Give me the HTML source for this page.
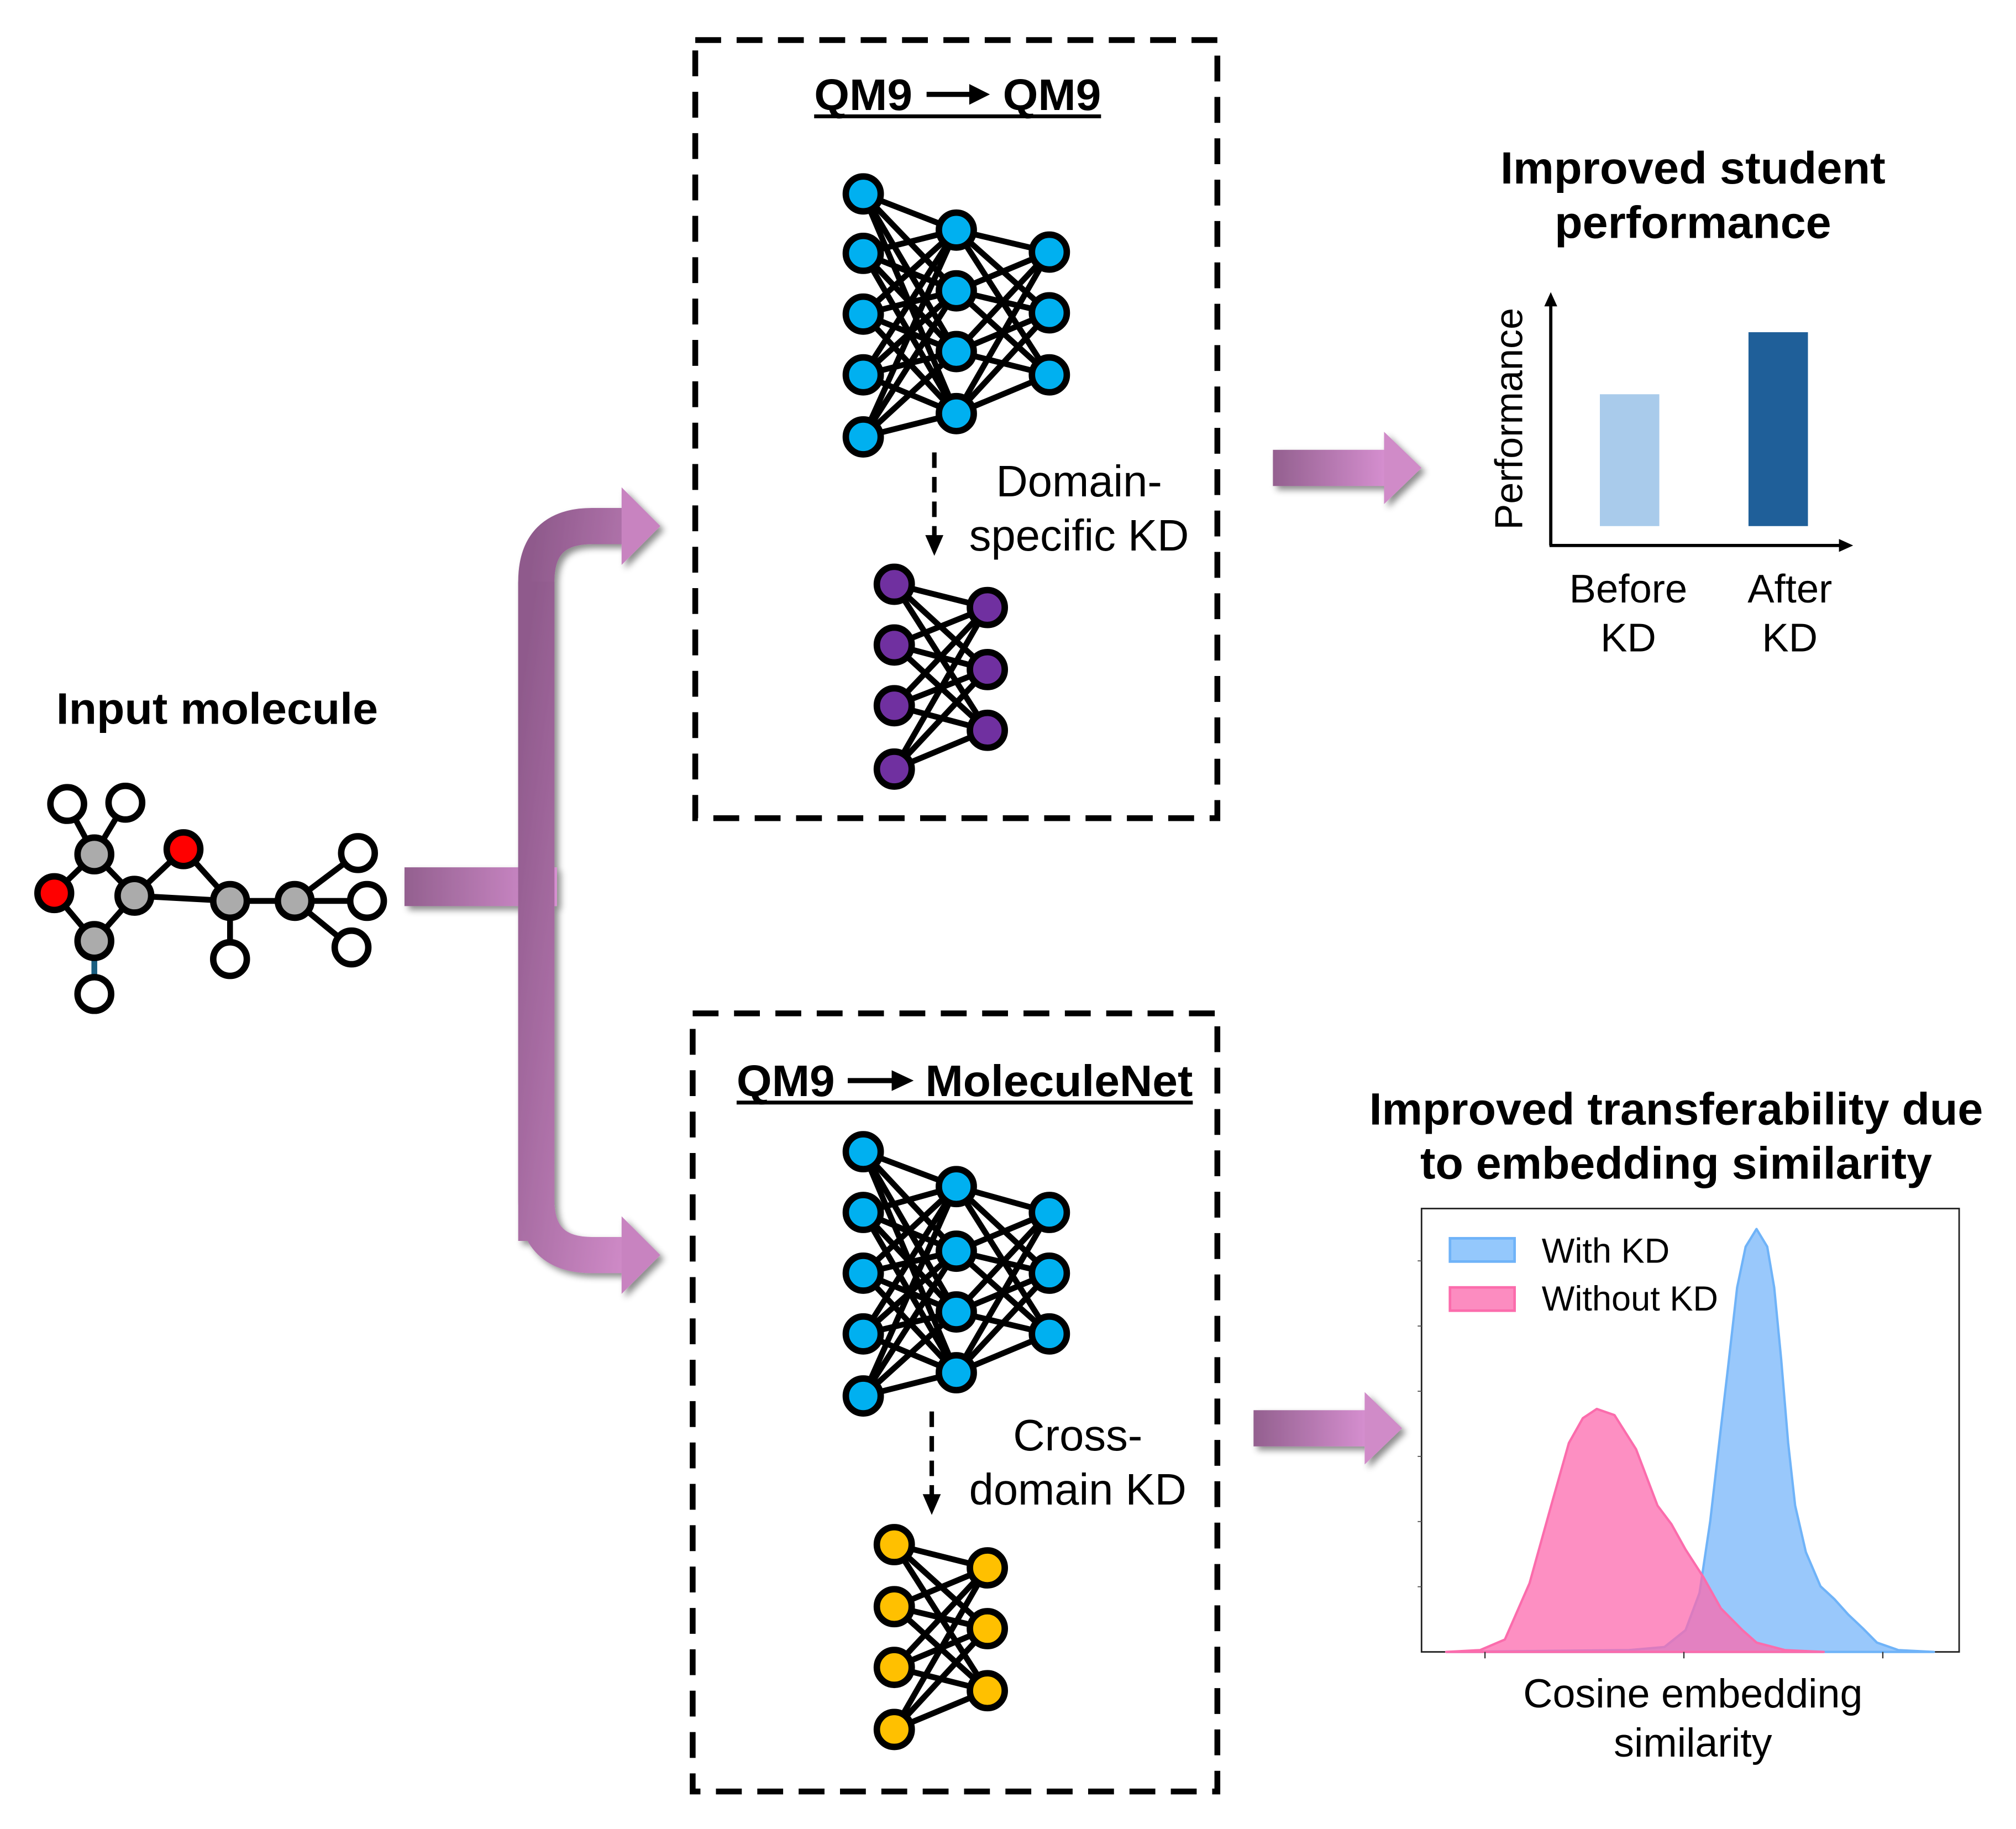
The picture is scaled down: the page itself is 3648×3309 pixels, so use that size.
<!DOCTYPE html>
<html><head><meta charset="utf-8">
<style>
html,body{margin:0;padding:0;background:#fff;}
svg{display:block;}
text{font-family:"Liberation Sans",Arial,sans-serif;fill:#000;}
</style></head>
<body>
<svg id="root" width="3648" height="3309" viewBox="0 0 1560 1415" xmlns="http://www.w3.org/2000/svg">
<defs>
<linearGradient id="pg" x1="0" y1="0" x2="1" y2="1">
<stop offset="0" stop-color="#8f5a8c"/><stop offset="1" stop-color="#d08bc8"/></linearGradient>
<linearGradient id="pgh" x1="0" y1="0" x2="1" y2="0">
<stop offset="0" stop-color="#93608f"/><stop offset="1" stop-color="#d68fd0"/></linearGradient>
<filter id="sh" x="-20%" y="-20%" width="150%" height="150%"><feDropShadow dx="3" dy="3" stdDeviation="2.5" flood-color="#000" flood-opacity="0.45"/></filter>
</defs>

<!-- Input molecule -->
<text x="168" y="560" font-size="34" font-weight="bold" text-anchor="middle" textLength="249" lengthAdjust="spacingAndGlyphs">Input molecule</text>
<g id="mol"></g>

<!-- Bracket arrows -->
<g filter="url(#sh)">
<rect x="313" y="671" width="118" height="30" fill="url(#pgh)"/>
<path d="M415,960 L415,450 Q415,407 458,407 L486,407" fill="none" stroke="url(#pg)" stroke-width="28"/>
<polygon points="481,377 511,407 481,437" fill="#c883c0"/>
<path d="M415,450 L415,928 Q415,971 458,971 L486,971" fill="none" stroke="url(#pg)" stroke-width="28"/>
<polygon points="481,941 511,971 481,1001" fill="#c883c0"/>
</g>

<!-- Dashed boxes -->
<rect x="538" y="31" width="404" height="602" fill="none" stroke="#000" stroke-width="4.5" stroke-dasharray="20 12"/>
<rect x="536" y="784" width="406" height="602" fill="none" stroke="#000" stroke-width="4.5" stroke-dasharray="20 12"/>

<g>
<text x="630" y="85" font-size="34" font-weight="bold" textLength="76" lengthAdjust="spacingAndGlyphs">QM9</text>
<line x1="717" y1="73" x2="752" y2="73" stroke="#000" stroke-width="4"/>
<polygon points="750,65 766,73 750,81" fill="#000"/>
<text x="776" y="85" font-size="34" font-weight="bold" textLength="76" lengthAdjust="spacingAndGlyphs">QM9</text>
<line x1="630" y1="90" x2="852" y2="90" stroke="#000" stroke-width="3"/>
</g>
<g>
<text x="570" y="848" font-size="34" font-weight="bold" textLength="76" lengthAdjust="spacingAndGlyphs">QM9</text>
<line x1="656" y1="836" x2="692" y2="836" stroke="#000" stroke-width="4"/>
<polygon points="690,828 707,836 690,844" fill="#000"/>
<text x="716" y="848" font-size="34" font-weight="bold" textLength="207" lengthAdjust="spacingAndGlyphs">MoleculeNet</text>
<line x1="570" y1="853" x2="923" y2="853" stroke="#000" stroke-width="3"/>
</g>

<g id="nets"></g>

<g>
<line x1="723" y1="350" x2="723" y2="415" stroke="#000" stroke-width="3.5" stroke-dasharray="12 7"/>
<polygon points="716,414 730,414 723,430" fill="#000"/>
</g>
<g>
<line x1="721" y1="1092" x2="721" y2="1157" stroke="#000" stroke-width="3.5" stroke-dasharray="12 7"/>
<polygon points="714,1156 728,1156 721,1172" fill="#000"/>
</g>
<text font-size="34" text-anchor="middle"><tspan x="835" y="384">Domain-</tspan><tspan x="835" y="426">specific KD</tspan></text>
<text font-size="34" text-anchor="middle"><tspan x="834" y="1122">Cross-</tspan><tspan x="834" y="1164">domain KD</tspan></text>

<!-- Right arrows -->
<g filter="url(#sh)">
<rect x="985" y="348" width="88" height="28" fill="url(#pgh)"/>
<polygon points="1071,334 1100,362 1071,390" fill="#d08bc8"/>
</g>
<g filter="url(#sh)">
<rect x="970" y="1091" width="88" height="28" fill="url(#pgh)"/>
<polygon points="1056,1077 1085,1105 1056,1133" fill="#d08bc8"/>
</g>

<!-- Bar chart -->
<text font-size="35" font-weight="bold" text-anchor="middle"><tspan x="1310" y="142" textLength="298" lengthAdjust="spacingAndGlyphs">Improved student</tspan><tspan x="1310" y="184" textLength="214" lengthAdjust="spacingAndGlyphs">performance</tspan></text>
<g>
<line x1="1200" y1="422" x2="1200" y2="235" stroke="#000" stroke-width="2.5"/>
<polygon points="1195,237 1205,237 1200,226" fill="#000"/>
<line x1="1199" y1="422" x2="1425" y2="422" stroke="#000" stroke-width="2.5"/>
<polygon points="1423,417 1423,427 1434,422" fill="#000"/>
<g id="bars"></g>
<text font-size="30" text-anchor="middle" transform="translate(1178,324) rotate(-90)">Performance</text>
<text font-size="31" text-anchor="middle"><tspan x="1260" y="466">Before</tspan><tspan x="1260" y="504">KD</tspan></text>
<text font-size="31" text-anchor="middle"><tspan x="1385" y="466">After</tspan><tspan x="1385" y="504">KD</tspan></text>
</g>

<!-- Density chart -->
<text font-size="35" font-weight="bold" text-anchor="middle"><tspan x="1297" y="870" textLength="475" lengthAdjust="spacingAndGlyphs">Improved transferability due</tspan><tspan x="1297" y="912" textLength="396" lengthAdjust="spacingAndGlyphs">to embedding similarity</tspan></text>
<g id="density">
<rect x="1100" y="935" width="416" height="343" fill="#fff" stroke="#222" stroke-width="1.2"/>
</g>
<g>
<rect x="1122" y="958" width="50" height="18" fill="#94c8fc" stroke="#6fb3f8" stroke-width="2"/>
<text x="1193" y="977" font-size="27">With KD</text>
<rect x="1122" y="996" width="50" height="18" fill="#fc8cc0" stroke="#fb6cac" stroke-width="2"/>
<text x="1193" y="1014" font-size="27">Without KD</text>
</g>
<text font-size="31.5" text-anchor="middle"><tspan x="1310" y="1321">Cosine embedding</tspan><tspan x="1310" y="1359">similarity</tspan></text>
</svg>

<script>
// Bar chart data
const barCategories = ['Before KD', 'After KD'];
const barValues = [0.68, 1.0];
// Density data (x: cosine similarity normalized, y: density normalized)
const withKdX = [0.046,0.386,0.452,0.491,0.517,0.537,0.557,0.570,0.587,0.603,0.623,0.643,0.656,0.669,0.682,0.695,0.715,0.742,0.768,0.794,0.821,0.847,0.887,0.953];
const withKdY = [0,0.004,0.011,0.049,0.133,0.295,0.506,0.640,0.822,0.914,0.954,0.914,0.822,0.660,0.471,0.330,0.225,0.148,0.119,0.084,0.053,0.021,0.004,0];
const withoutKdX = [0.046,0.109,0.155,0.201,0.241,0.274,0.300,0.326,0.359,0.399,0.439,0.465,0.491,0.524,0.557,0.597,0.623,0.676,0.748];
const withoutKdY = [0,0.004,0.028,0.155,0.330,0.471,0.527,0.548,0.534,0.457,0.330,0.288,0.231,0.169,0.098,0.049,0.021,0.004,0];
const xTicks = [0.118, 0.488, 0.858];
const yTicks = [0.147, 0.294, 0.441, 0.588, 0.735, 0.882];

const NS = 'http://www.w3.org/2000/svg';
function mk(tag, attrs, parent){const e=document.createElementNS(NS,tag);for(const k in attrs)e.setAttribute(k,attrs[k]);parent.appendChild(e);return e;}

// bars
const barG = document.getElementById('bars');
const bx = i => 1238 + i*115, bw = 46, by = v => 407 - v*150;
const barColors = ['#a9cbeb','#1f5f99'];
barValues.forEach((v,i)=>{
  const r = mk('rect',{x:bx(i),y:by(v),width:bw,height:407-by(v),fill:barColors[i]},barG);
  
  
});

// density
const dg = document.getElementById('density');
const sx = t => 1100 + t*416, sy = h => 1278 - h*343;
function area(xs, ys, fill, stroke, name){
  let d = 'M'+sx(xs[0])+','+sy(0);
  xs.forEach((x,i)=>{ d += ' L'+sx(x).toFixed(1)+','+sy(ys[i]).toFixed(1); });
  d += ' L'+sx(xs[xs.length-1])+','+sy(0)+' Z';
  const p = mk('path',{d:d,fill:fill,'fill-opacity':0.75,stroke:stroke,'stroke-width':1.8,'stroke-linejoin':'round'},dg);
  
  
}
area(withKdX, withKdY, '#77b6fa', '#6fb3f8', 'with-kd-density');
area(withoutKdX, withoutKdY, '#fc6aad', '#fb6cac', 'without-kd-density');
xTicks.forEach(t=>{
  const l = mk('line',{x1:sx(t),x2:sx(t),y1:1278,y2:1283,stroke:'#333','stroke-width':1},dg);
  
  
});
yTicks.forEach(h=>{
  const l = mk('line',{x1:1097,x2:1100,y1:sy(h),y2:sy(h),stroke:'#555','stroke-width':0.8},dg);
  
  
});

// networks
const ng = document.getElementById('nets');
function net(layers, fill, name){
  const g = mk('g',{},ng);
  
  
  for(let l=0;l<layers.length-1;l++){
    const [x1,ys1]=layers[l],[x2,ys2]=layers[l+1];
    ys1.forEach(a=>ys2.forEach(b=>mk('line',{x1:x1,y1:a,x2:x2,y2:b,stroke:'#000','stroke-width':4.5},g)));
  }
  layers.forEach(([x,ys])=>ys.forEach(y=>{
    const c = mk('circle',{cx:x,cy:y,r:13.5,fill:fill,stroke:'#000','stroke-width':5},g);
    
    
  }));
}
net([[668,[150,196,243,290,338]],[740,[178,225,272,320]],[812,[195,242,290]]],'#00b0f0','teacher-network-top');
net([[692,[452,499,546,595]],[764,[470,518,565]]],'#7030a0','student-network-top');
net([[668,[891,938,985,1032,1080]],[740,[918,968,1015,1062]],[812,[938,985,1032]]],'#00b0f0','teacher-network-bottom');
net([[692,[1195,1243,1290,1338]],[764,[1213,1260,1308]]],'#ffc000','student-network-bottom');

// molecule
const mg = document.getElementById('mol');
const atoms = {C1:[73,661,'#ababab'],H1:[52,622,'#fff'],H2:[97,621,'#fff'],O1:[42,691,'#f00'],C2:[104,693,'#ababab'],C3:[73,728,'#ababab'],H3:[73,769,'#fff'],O2:[142,657,'#f00'],C4:[178,697,'#ababab'],H4:[178,742,'#fff'],C5:[228,697,'#ababab'],H5:[277,660,'#fff'],H6:[284,697,'#fff'],H7:[272,733,'#fff']};
const bonds = [['C1','H1'],['C1','H2'],['C1','O1'],['C1','C2'],['O1','C3'],['C3','C2'],['C2','O2'],['O2','C4'],['C2','C4'],['C4','C5'],['C4','H4'],['C5','H5'],['C5','H6'],['C5','H7']];
bonds.forEach(([a,b])=>{
  const l = mk('line',{x1:atoms[a][0],y1:atoms[a][1],x2:atoms[b][0],y2:atoms[b][1],stroke:'#000','stroke-width':4.5},mg);
  
  
});
mk('line',{x1:73,y1:740,x2:73,y2:757,stroke:'#1a5e80','stroke-width':4.5},mg);
Object.keys(atoms).forEach(k=>{
  const [x,y,f]=atoms[k];
  const c = mk('circle',{cx:x,cy:y,r:13,fill:f,stroke:'#000','stroke-width':5},mg);
  
  
});
</script>
</body></html>
